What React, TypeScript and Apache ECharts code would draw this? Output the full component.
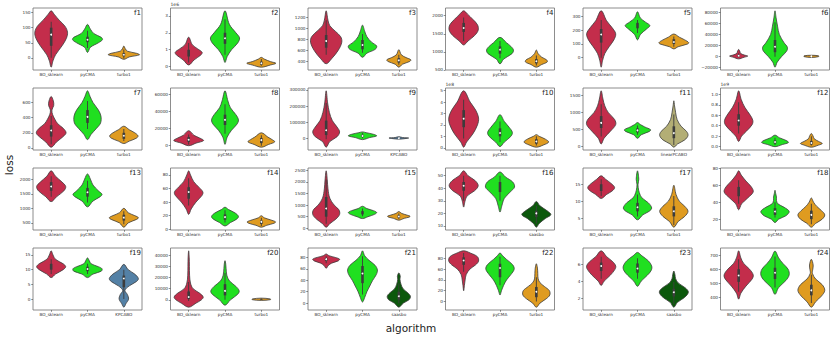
import React, { useEffect, useRef } from "react";
import * as echarts from "echarts";

const ALGO_COLORS: Record<string, string> = {
  BO_sklearn: "#c32d4b",
  pyCMA: "#20df20",
  turbo1: "#df9b20",
  KPCABO: "#5481a6",
  linearPCABO: "#b3ae75",
  saasbo: "#0c580c",
};

const catsTurbo = ["BO_sklearn", "pyCMA", "turbo1"];
const catsKpca = ["BO_sklearn", "pyCMA", "KPCABO"];
const catsLinear = ["BO_sklearn", "pyCMA", "linearPCABO"];
const catsSaas = ["BO_sklearn", "pyCMA", "saasbo"];

// Each violin: profile [value, half-width in category units]; box [lo, q1, median, q3, hi]
const f1Ticks = [0, 50, 100, 150];
const f1Shapes = [
  [[-31, 0], [-10, 0.05], [10, 0.12], [40, 0.3], [65, 0.42], [85, 0.45], [105, 0.38], [125, 0.22], [145, 0.08], [156, 0]],
  [[18, 0], [35, 0.08], [50, 0.3], [60, 0.41], [68, 0.38], [80, 0.18], [95, 0.08], [111, 0]],
  [[-5, 0], [3, 0.15], [10, 0.43], [15, 0.35], [22, 0.1], [30, 0.04], [39, 0]],
];
const f1Boxes = [[0, 40, 77, 100, 120], [33, 52, 60, 70, 90], [-2, 5, 10, 16, 28]];

const f2Ticks = [0, 1, 2, 3];
const f2Shapes = [
  [[0.1, 0], [0.4, 0.15], [0.7, 0.34], [0.85, 0.37], [1.05, 0.25], [1.3, 0.1], [1.74, 0]],
  [[0.25, 0], [0.6, 0.06], [1.0, 0.18], [1.4, 0.35], [1.7, 0.4], [2.0, 0.3], [2.5, 0.12], [3.3, 0]],
  [[-0.03, 0], [0.1, 0.25], [0.2, 0.4], [0.3, 0.25], [0.45, 0.08], [0.55, 0]],
];
const f2Boxes = [[0.25, 0.6, 0.78, 1.0, 1.4], [0.7, 1.35, 1.68, 2.0, 2.8], [0.05, 0.12, 0.2, 0.3, 0.45]];

const f3Ticks = [400, 600, 800, 1000, 1200];
const f3Shapes = [
  [[358, 0], [450, 0.15], [600, 0.33], [750, 0.43], [850, 0.4], [950, 0.25], [1050, 0.1], [1150, 0.05], [1320, 0]],
  [[475, 0], [550, 0.12], [620, 0.35], [680, 0.39], [750, 0.25], [850, 0.12], [950, 0.06], [1060, 0]],
  [[296, 0], [350, 0.1], [400, 0.3], [430, 0.33], [470, 0.2], [520, 0.07], [614, 0]],
];
const f3Boxes = [[520, 650, 770, 880, 1150], [560, 620, 700, 790, 900], [340, 380, 420, 460, 520]];

const f4Ticks = [500, 1000, 1500, 2000];
const f4Shapes = [
  [[1190, 0], [1300, 0.12], [1450, 0.3], [1600, 0.4], [1750, 0.38], [1900, 0.25], [2050, 0.1], [2135, 0]],
  [[666, 0], [800, 0.1], [950, 0.33], [1050, 0.37], [1150, 0.3], [1250, 0.18], [1400, 0]],
  [[575, 0], [650, 0.15], [720, 0.3], [780, 0.28], [850, 0.15], [950, 0.05], [1050, 0]],
];
const f4Boxes = [[1300, 1550, 1660, 1800, 1950], [820, 950, 1060, 1150, 1300], [620, 680, 740, 800, 900]];

const f5Ticks = [0, 100, 200, 300];
const f5Shapes = [
  [[-70, 0], [-20, 0.04], [30, 0.1], [80, 0.22], [130, 0.35], [175, 0.4], [220, 0.3], [270, 0.15], [343, 0]],
  [[130, 0], [170, 0.08], [210, 0.25], [235, 0.34], [260, 0.22], [290, 0.08], [336, 0]],
  [[64, 0], [80, 0.12], [100, 0.38], [110, 0.41], [130, 0.3], [150, 0.15], [173, 0]],
];
const f5Boxes = [[0, 110, 170, 210, 275], [180, 215, 235, 255, 275], [80, 100, 115, 135, 155]];

const f6Ticks = [-20000, 0, 20000, 40000, 60000, 80000];
const f6Shapes = [
  [[-4000, 0], [-1000, 0.15], [1000, 0.25], [3000, 0.15], [6000, 0.05], [10000, 0.03], [13000, 0]],
  [[-19000, 0], [-10000, 0.06], [0, 0.18], [10000, 0.32], [17000, 0.34], [25000, 0.25], [40000, 0.12], [55000, 0.07], [70000, 0.03], [82700, 0]],
  [[-1500, 0], [0, 0.2], [1500, 0.2], [2500, 0]],
];
const f6Boxes = [[-1000, 500, 1500, 3000, 6000], [0, 8000, 18000, 30000, 62000], [0, 200, 500, 800, 1500]];

const f7Ticks = [0, 200, 400, 600, 800];
const f7Shapes = [
  [[10, 0], [80, 0.15], [150, 0.33], [200, 0.41], [260, 0.33], [320, 0.18], [380, 0.1], [440, 0.04], [500, 0.02], [560, 0.07], [620, 0.06], [680, 0]],
  [[110, 0], [180, 0.1], [260, 0.25], [330, 0.36], [420, 0.37], [500, 0.3], [600, 0.15], [680, 0.07], [754, 0]],
  [[58, 0], [90, 0.15], [130, 0.35], [160, 0.39], [200, 0.3], [240, 0.15], [287, 0]],
];
const f7Boxes = [[50, 150, 230, 300, 420], [250, 330, 410, 500, 620], [90, 120, 160, 200, 250]];

const f8Ticks = [0, 20000, 40000, 60000];
const f8Shapes = [
  [[0, 0], [3000, 0.2], [6000, 0.41], [9000, 0.3], [12000, 0.15], [17500, 0]],
  [[1500, 0], [10000, 0.06], [18000, 0.18], [25000, 0.33], [30000, 0.37], [36000, 0.3], [44000, 0.15], [52000, 0.08], [63700, 0]],
  [[-1700, 0], [1500, 0.2], [4500, 0.37], [7000, 0.3], [10000, 0.18], [15000, 0]],
];
const f8Boxes = [[1500, 4500, 7000, 10000, 13000], [14000, 24000, 30000, 36000, 48000], [0, 3000, 6500, 9000, 12000]];

const f9Ticks = [0, 100000, 200000, 300000];
const f9Shapes = [
  [[-55000, 0], [-20000, 0.1], [10000, 0.3], [40000, 0.37], [70000, 0.3], [110000, 0.17], [160000, 0.09], [220000, 0.04], [294900, 0]],
  [[-8000, 0], [5000, 0.2], [15000, 0.39], [25000, 0.3], [35000, 0.1], [40000, 0]],
  [[-5000, 0], [-1000, 0.2], [2000, 0.27], [5000, 0.1], [10000, 0]],
];
const f9Boxes = [[-5000, 20000, 50000, 110000, 220000], [0, 8000, 15000, 22000, 33000], [-2000, 0, 1000, 3000, 6000]];

const f10Ticks = [0, 1, 2, 3, 4, 5];
const f10Shapes = [
  [[0.05, 0], [0.5, 0.08], [1.2, 0.25], [2.0, 0.38], [2.6, 0.41], [3.3, 0.33], [4.0, 0.18], [4.99, 0]],
  [[0.1, 0], [0.5, 0.12], [1.0, 0.3], [1.35, 0.34], [1.8, 0.25], [2.3, 0.12], [2.9, 0]],
  [[0.05, 0], [0.25, 0.2], [0.5, 0.34], [0.75, 0.25], [1.0, 0.08], [1.15, 0]],
];
const f10Boxes = [[0.8, 1.8, 2.55, 3.3, 4.2], [0.5, 1.0, 1.3, 1.7, 2.3], [0.2, 0.35, 0.55, 0.75, 1.0]];

const f11Ticks = [0, 500, 1000, 1500];
const f11Shapes = [
  [[80, 0], [250, 0.08], [450, 0.25], [650, 0.4], [800, 0.37], [1000, 0.2], [1200, 0.1], [1400, 0.05], [1643, 0]],
  [[245, 0], [350, 0.1], [450, 0.33], [500, 0.36], [580, 0.2], [650, 0.08], [710, 0]],
  [[-14, 0], [80, 0.1], [200, 0.3], [330, 0.39], [450, 0.35], [600, 0.2], [800, 0.09], [1000, 0.05], [1200, 0.02], [1350, 0]],
];
const f11Boxes = [[300, 550, 700, 900, 1250], [350, 420, 480, 540, 620], [50, 250, 400, 600, 950]];

const f12Ticks = [0, 0.2, 0.4, 0.6, 0.8, 1.0];
const f12Shapes = [
  [[0.1, 0], [0.2, 0.08], [0.3, 0.22], [0.42, 0.37], [0.5, 0.39], [0.6, 0.32], [0.75, 0.17], [0.9, 0.07], [1.066, 0]],
  [[0.0, 0], [0.04, 0.2], [0.08, 0.37], [0.12, 0.3], [0.17, 0.12], [0.22, 0]],
  [[-0.01, 0], [0.03, 0.2], [0.06, 0.3], [0.1, 0.2], [0.15, 0.08], [0.2, 0.05], [0.25, 0]],
];
const f12Boxes = [[0.25, 0.4, 0.5, 0.62, 0.85], [0.03, 0.06, 0.09, 0.12, 0.17], [0.02, 0.04, 0.07, 0.11, 0.2]];

const f13Ticks = [500, 1000, 1500, 2000];
const f13Shapes = [
  [[1230, 0], [1400, 0.15], [1600, 0.35], [1750, 0.4], [1900, 0.3], [2100, 0.12], [2287, 0]],
  [[1050, 0], [1250, 0.15], [1400, 0.35], [1480, 0.4], [1600, 0.3], [1800, 0.15], [2000, 0.08], [2180, 0]],
  [[353, 0], [500, 0.12], [620, 0.35], [680, 0.4], [750, 0.3], [850, 0.12], [1000, 0]],
];
const f13Boxes = [[1400, 1600, 1750, 1900, 2100], [1200, 1400, 1550, 1700, 1950], [450, 580, 680, 780, 900]];

const f14Ticks = [0, 20, 40, 60, 80];
const f14Shapes = [
  [[22, 0], [30, 0.07], [40, 0.2], [50, 0.37], [55, 0.39], [62, 0.28], [70, 0.14], [80, 0.05], [86, 0]],
  [[5, 0], [10, 0.15], [15, 0.32], [19, 0.37], [24, 0.28], [29, 0.1], [32.5, 0]],
  [[3.2, 0], [6, 0.15], [9, 0.35], [11, 0.39], [14, 0.25], [17, 0.08], [20, 0]],
];
const f14Boxes = [[35, 45, 55, 62, 75], [10, 14, 18, 22, 28], [5, 8, 11, 13, 17]];

const f15Ticks = [0, 500, 1000, 1500, 2000, 2500];
const f15Shapes = [
  [[47, 0], [200, 0.1], [400, 0.27], [600, 0.37], [800, 0.35], [1000, 0.22], [1300, 0.1], [1700, 0.05], [2100, 0.03], [2480, 0]],
  [[420, 0], [500, 0.15], [600, 0.33], [680, 0.39], [760, 0.3], [850, 0.12], [950, 0]],
  [[350, 0], [430, 0.15], [480, 0.28], [520, 0.31], [570, 0.22], [640, 0.08], [720, 0]],
];
const f15Boxes = [[200, 500, 850, 1350, 2100], [520, 600, 680, 740, 850], [400, 460, 510, 560, 640]];

const f16Ticks = [10, 20, 30, 40, 50];
const f16Shapes = [
  [[25, 0], [30, 0.04], [34, 0.1], [38, 0.3], [42, 0.4], [46, 0.32], [50, 0.12], [53.9, 0]],
  [[21, 0], [26, 0.05], [32, 0.12], [37, 0.28], [41, 0.4], [45, 0.35], [49, 0.15], [53, 0]],
  [[9, 0], [12, 0.08], [16, 0.25], [19, 0.4], [22, 0.3], [26, 0.1], [29.5, 0]],
];
const f16Boxes = [[30, 38, 42, 45, 50], [30, 37, 41, 45, 50], [12, 17, 20, 22, 26]];

const f17Ticks = [5, 10, 15];
const f17Shapes = [
  [[10.8, 0], [12, 0.15], [13, 0.3], [14, 0.37], [15, 0.3], [16.5, 0.12], [17.5, 0]],
  [[4.5, 0], [6, 0.15], [7, 0.32], [8, 0.39], [9.5, 0.3], [11, 0.12], [12.5, 0.05], [14, 0.02], [15, 0.015], [16.5, 0.035], [18.97, 0]],
  [[2.32, 0], [4, 0.12], [5.5, 0.3], [7, 0.39], [8.5, 0.3], [10, 0.15], [12, 0.06], [14.7, 0]],
];
const f17Boxes = [[11.5, 13, 14, 15, 16.5], [5.5, 7, 8.2, 9.5, 12], [3, 5.5, 7, 8.5, 11.5]];

const f18Ticks = [20, 40, 60, 80];
const f18Shapes = [
  [[31, 0], [38, 0.08], [45, 0.25], [52, 0.4], [58, 0.35], [65, 0.2], [72, 0.07], [77, 0]],
  [[16, 0], [20, 0.1], [24, 0.3], [29, 0.39], [34, 0.25], [38, 0.08], [42, 0.04], [46, 0.04], [50, 0.02], [54, 0]],
  [[10.5, 0], [15, 0.12], [20, 0.3], [25, 0.37], [30, 0.28], [35, 0.15], [40, 0.06], [45, 0]],
];
const f18Boxes = [[38, 47, 53, 58, 66], [22, 25, 29, 33, 40], [14, 20, 25, 30, 38]];

const f19Ticks = [0, 5, 10, 15];
const f19Shapes = [
  [[7.3, 0], [8.5, 0.12], [10, 0.33], [11, 0.4], [12, 0.33], [13.5, 0.12], [15, 0.05], [16.4, 0]],
  [[7.3, 0], [8.5, 0.15], [9.5, 0.38], [10.3, 0.4], [11, 0.3], [12, 0.1], [13, 0.05], [14, 0]],
  [[-2.74, 0], [-1.5, 0.06], [0, 0.13], [1.5, 0.1], [3, 0.03], [4.5, 0.15], [6, 0.35], [7, 0.4], [8.5, 0.3], [10, 0.12], [11.8, 0]],
];
const f19Boxes = [[8.5, 10, 11, 12, 13.5], [8.5, 9.5, 10.2, 11, 12], [0, 4, 7, 8, 10]];

const f20Ticks = [0, 10000, 20000, 30000, 40000];
const f20Shapes = [
  [[-6570, 0], [-3000, 0.2], [0, 0.35], [2500, 0.4], [6000, 0.3], [10000, 0.12], [15000, 0.05], [22000, 0.025], [30000, 0.02], [38000, 0.015], [43800, 0]],
  [[-4800, 0], [0, 0.15], [5000, 0.35], [8000, 0.39], [12000, 0.3], [17000, 0.12], [22000, 0.05], [28000, 0.03], [32000, 0.02], [35000, 0]],
  [[-500, 0], [100, 0.25], [800, 0.25], [1500, 0]],
];
const f20Boxes = [[-1000, 800, 2500, 7500, 16000], [0, 4000, 8000, 14000, 24000], [0, 200, 500, 800, 1200]];

const f21Ticks = [0, 20, 40, 60, 80];
const f21Shapes = [
  [[61, 0], [66, 0.06], [70, 0.15], [74, 0.33], [77, 0.37], [80, 0.25], [83, 0.08], [86, 0]],
  [[2, 0], [10, 0.06], [20, 0.12], [30, 0.2], [40, 0.28], [50, 0.38], [58, 0.41], [66, 0.35], [75, 0.18], [83, 0.06], [91.6, 0]],
  [[-7, 0], [0, 0.12], [6, 0.28], [12, 0.32], [18, 0.25], [25, 0.12], [33, 0.06], [42, 0.03], [47, 0.04], [53, 0]],
];
const f21Boxes = [[70, 74, 77, 79, 82], [15, 35, 52, 65, 82], [0, 6, 12, 20, 35]];

const f22Ticks = [0, 20, 40, 60, 80];
const f22Shapes = [
  [[20, 0], [30, 0.02], [40, 0.04], [50, 0.07], [60, 0.17], [68, 0.33], [75, 0.41], [83, 0.38], [90, 0.18], [94, 0]],
  [[12, 0], [20, 0.04], [30, 0.1], [40, 0.18], [50, 0.3], [60, 0.39], [68, 0.35], [78, 0.18], [85, 0.07], [90, 0]],
  [[-10.5, 0], [-3, 0.1], [5, 0.27], [12, 0.37], [20, 0.36], [28, 0.22], [35, 0.1], [42, 0.05], [52, 0.04], [62, 0.03], [70, 0]],
];
const f22Boxes = [[55, 68, 76, 82, 90], [30, 45, 62, 70, 83], [0, 8, 18, 27, 45]];

const f23Ticks = [2, 4, 6];
const f23Shapes = [
  [[3.5, 0], [4.0, 0.08], [4.7, 0.25], [5.4, 0.38], [5.8, 0.4], [6.3, 0.32], [6.9, 0.15], [7.59, 0]],
  [[3.4, 0], [4, 0.1], [4.7, 0.27], [5.3, 0.38], [5.8, 0.39], [6.4, 0.3], [7, 0.12], [7.4, 0]],
  [[0.93, 0], [1.5, 0.1], [2.1, 0.3], [2.7, 0.4], [3.2, 0.32], [3.8, 0.12], [4.3, 0.05], [4.8, 0.03], [5.2, 0]],
];
const f23Boxes = [[4.3, 5.2, 5.8, 6.2, 6.9], [4.3, 5, 5.5, 6.1, 6.7], [1.3, 2.2, 2.7, 3.1, 3.9]];

const f24Ticks = [400, 500, 600, 700];
const f24Shapes = [
  [[388, 0], [430, 0.06], [480, 0.2], [530, 0.37], [560, 0.4], [600, 0.3], [640, 0.14], [680, 0.06], [730, 0]],
  [[422, 0], [470, 0.1], [520, 0.3], [560, 0.39], [600, 0.36], [640, 0.22], [680, 0.1], [728, 0]],
  [[331, 0], [370, 0.12], [410, 0.28], [450, 0.37], [490, 0.3], [530, 0.12], [570, 0.03], [600, 0.04], [630, 0.05], [670, 0]],
];
const f24Boxes = [[440, 510, 555, 600, 670], [470, 530, 575, 610, 690], [360, 415, 450, 490, 560]];

type Panel = { name: string; cats: string[]; ticks: number[]; shapes: number[][][]; boxes: number[][]; dec: number; exp: string };

const panels: Panel[] = [
  { name: "f1", cats: catsTurbo, ticks: f1Ticks, shapes: f1Shapes, boxes: f1Boxes, dec: 0, exp: "" },
  { name: "f2", cats: catsTurbo, ticks: f2Ticks, shapes: f2Shapes, boxes: f2Boxes, dec: 0, exp: "1e6" },
  { name: "f3", cats: catsTurbo, ticks: f3Ticks, shapes: f3Shapes, boxes: f3Boxes, dec: 0, exp: "" },
  { name: "f4", cats: catsTurbo, ticks: f4Ticks, shapes: f4Shapes, boxes: f4Boxes, dec: 0, exp: "" },
  { name: "f5", cats: catsTurbo, ticks: f5Ticks, shapes: f5Shapes, boxes: f5Boxes, dec: 0, exp: "" },
  { name: "f6", cats: catsTurbo, ticks: f6Ticks, shapes: f6Shapes, boxes: f6Boxes, dec: 0, exp: "" },
  { name: "f7", cats: catsTurbo, ticks: f7Ticks, shapes: f7Shapes, boxes: f7Boxes, dec: 0, exp: "" },
  { name: "f8", cats: catsTurbo, ticks: f8Ticks, shapes: f8Shapes, boxes: f8Boxes, dec: 0, exp: "" },
  { name: "f9", cats: catsKpca, ticks: f9Ticks, shapes: f9Shapes, boxes: f9Boxes, dec: 0, exp: "" },
  { name: "f10", cats: catsTurbo, ticks: f10Ticks, shapes: f10Shapes, boxes: f10Boxes, dec: 0, exp: "1e8" },
  { name: "f11", cats: catsLinear, ticks: f11Ticks, shapes: f11Shapes, boxes: f11Boxes, dec: 0, exp: "" },
  { name: "f12", cats: catsTurbo, ticks: f12Ticks, shapes: f12Shapes, boxes: f12Boxes, dec: 1, exp: "1e9" },
  { name: "f13", cats: catsTurbo, ticks: f13Ticks, shapes: f13Shapes, boxes: f13Boxes, dec: 0, exp: "" },
  { name: "f14", cats: catsTurbo, ticks: f14Ticks, shapes: f14Shapes, boxes: f14Boxes, dec: 0, exp: "" },
  { name: "f15", cats: catsTurbo, ticks: f15Ticks, shapes: f15Shapes, boxes: f15Boxes, dec: 0, exp: "" },
  { name: "f16", cats: catsSaas, ticks: f16Ticks, shapes: f16Shapes, boxes: f16Boxes, dec: 0, exp: "" },
  { name: "f17", cats: catsTurbo, ticks: f17Ticks, shapes: f17Shapes, boxes: f17Boxes, dec: 0, exp: "" },
  { name: "f18", cats: catsTurbo, ticks: f18Ticks, shapes: f18Shapes, boxes: f18Boxes, dec: 0, exp: "" },
  { name: "f19", cats: catsKpca, ticks: f19Ticks, shapes: f19Shapes, boxes: f19Boxes, dec: 0, exp: "" },
  { name: "f20", cats: catsTurbo, ticks: f20Ticks, shapes: f20Shapes, boxes: f20Boxes, dec: 0, exp: "" },
  { name: "f21", cats: catsSaas, ticks: f21Ticks, shapes: f21Shapes, boxes: f21Boxes, dec: 0, exp: "" },
  { name: "f22", cats: catsTurbo, ticks: f22Ticks, shapes: f22Shapes, boxes: f22Boxes, dec: 0, exp: "" },
  { name: "f23", cats: catsSaas, ticks: f23Ticks, shapes: f23Shapes, boxes: f23Boxes, dec: 0, exp: "" },
  { name: "f24", cats: catsTurbo, ticks: f24Ticks, shapes: f24Shapes, boxes: f24Boxes, dec: 0, exp: "" },
];

const FONT = "DejaVu Sans";
const EDGE = "#3c3c3c";

function buildOption() {
  const grids: any[] = [];
  const xAxes: any[] = [];
  const yAxes: any[] = [];
  const series: any[] = [];
  const graphics: any[] = [];
  panels.forEach((p, k) => {
    const col = k % 6;
    const row = Math.floor(k / 6);
    const left = 33 + 137.5 * col;
    const top = 8 + 80 * row;
    const width = 109;
    const height = 62;
    let lo = Infinity;
    let hi = -Infinity;
    p.shapes.forEach((s) => s.forEach(([v]) => { lo = Math.min(lo, v); hi = Math.max(hi, v); }));
    const pad = (hi - lo) * 0.05;
    grids.push({ left, top, width, height, show: true, borderColor: "#707070", borderWidth: 0.8, backgroundColor: "#fff" });
    xAxes.push({
      type: "category", gridIndex: k, data: p.cats, position: "bottom",
      axisLine: { show: false, onZero: false },
      axisTick: { show: true, alignWithLabel: true, length: 1.8, lineStyle: { color: "#444", width: 0.6 } },
      axisLabel: { interval: 0, fontSize: 4.2, color: "#333", margin: 2.5, fontFamily: FONT },
      splitLine: { show: false },
    });
    const dec = p.dec;
    yAxes.push({
      type: "value", gridIndex: k, min: lo - pad, max: hi + pad, scale: true, position: "left",
      axisLine: { show: false, onZero: false },
      splitLine: { show: false },
      axisTick: { show: true, length: 1.8, customValues: p.ticks, lineStyle: { color: "#444", width: 0.6 } },
      axisLabel: {
        customValues: p.ticks, fontSize: 4.2, color: "#333", margin: 2.5, fontFamily: FONT,
        formatter: (v: number) => { const s = Math.abs(v).toFixed(dec); return v < 0 ? "\u2212" + s : s; },
      },
    });
    const shapes = p.shapes;
    const boxes = p.boxes;
    const cats = p.cats;
    series.push({
      type: "custom", xAxisIndex: k, yAxisIndex: k,
      data: cats.map((_, i) => [i, boxes[i][2]]),
      encode: { x: 0, y: 1 },
      silent: true,
      renderItem: (params: any, api: any) => {
        const i = api.value(0) as number;
        const prof = shapes[i];
        const box = boxes[i];
        const bw = api.size([1, 0])[0];
        const right = prof.map(([v, w]) => { const c = api.coord([i, v]); return [c[0] + w * bw, c[1]]; });
        const leftSide = prof.slice(1, -1).reverse().map(([v, w]) => { const c = api.coord([i, v]); return [c[0] - w * bw, c[1]]; });
        const cx = api.coord([i, box[2]])[0];
        const y = (v: number) => api.coord([i, v])[1];
        return {
          type: "group",
          children: [
            { type: "polygon", shape: { points: right.concat(leftSide), smooth: 0.35 }, style: { fill: ALGO_COLORS[cats[i]], stroke: EDGE, lineWidth: 0.8 } },
            { type: "rect", shape: { x: cx - 0.45, y: y(box[4]), width: 0.9, height: y(box[0]) - y(box[4]) }, style: { fill: EDGE } },
            { type: "rect", shape: { x: cx - 1.3, y: y(box[3]), width: 2.6, height: y(box[1]) - y(box[3]) }, style: { fill: EDGE } },
            { type: "circle", shape: { cx, cy: y(box[2]), r: 0.9 }, style: { fill: "#ffffff" } },
          ],
        };
      },
    });
    graphics.push({
      type: "text", x: left + width - 1, y: top + 1.5,
      style: { text: p.name, fontSize: 7, fontFamily: FONT, fill: "#222", align: "right", textAlign: "right", verticalAlign: "top", textVerticalAlign: "top" },
    });
    if (p.exp) {
      graphics.push({
        type: "text", x: left, y: top - 1.5,
        style: { text: p.exp, fontSize: 4.5, fontFamily: FONT, fill: "#333", align: "left", textAlign: "left", verticalAlign: "bottom", textVerticalAlign: "bottom" },
      });
    }
  });
  graphics.push({
    type: "text", x: 9, y: 165, rotation: Math.PI / 2,
    style: { text: "loss", fontSize: 10.5, fontFamily: FONT, fill: "#222", align: "center", textAlign: "center", verticalAlign: "middle", textVerticalAlign: "middle" },
  });
  graphics.push({
    type: "text", x: 411, y: 328,
    style: { text: "algorithm", fontSize: 10.5, fontFamily: FONT, fill: "#222", align: "center", textAlign: "center", verticalAlign: "middle", textVerticalAlign: "middle" },
  });
  return {
    animation: false,
    backgroundColor: "#ffffff",
    grid: grids,
    xAxis: xAxes,
    yAxis: yAxes,
    series,
    graphic: { elements: graphics },
  };
}

export default function App() {
  const ref = useRef<HTMLDivElement>(null);
  useEffect(() => {
    if (!ref.current) return;
    const chart = echarts.init(ref.current, undefined, { renderer: "svg" });
    chart.setOption(buildOption() as any);
    return () => chart.dispose();
  }, []);
  return <div ref={ref} style={{ position: "fixed", left: 0, top: 0, width: 831, height: 338 }} />;
}
